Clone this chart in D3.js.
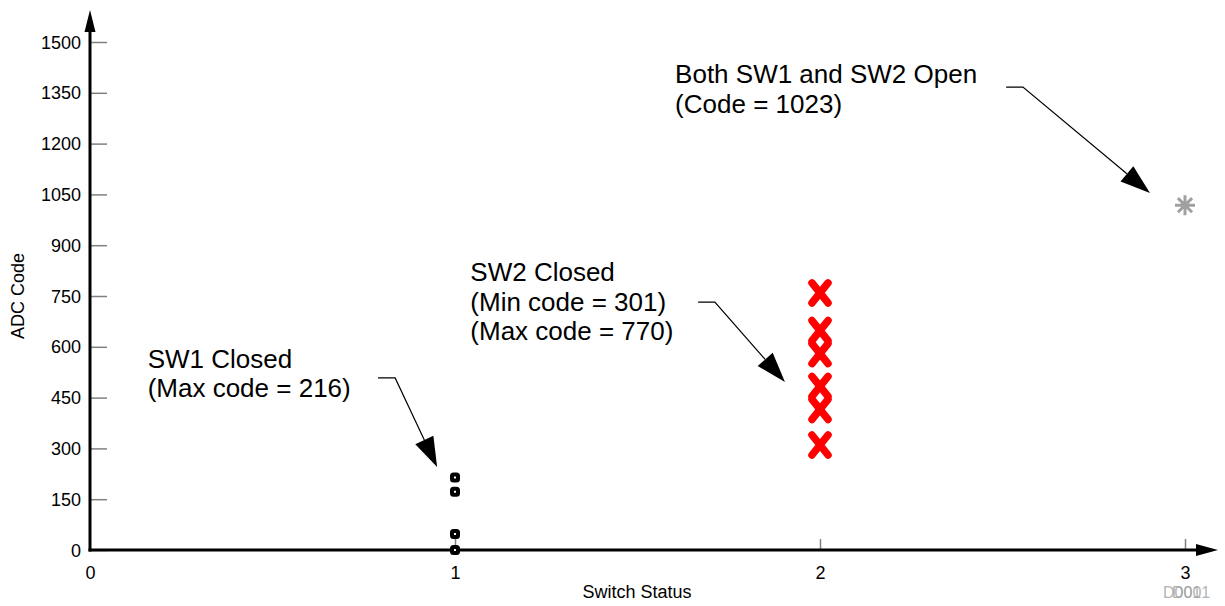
<!DOCTYPE html>
<html>
<head>
    <style>
        body { margin: 0; background: #fff; }
        svg text { font-family: "Liberation Sans", Arial, sans-serif; }
        .tick text { font-size: 18px; fill: #000; }
        .tick line { stroke: #808080; stroke-width: 1.5; }
        .note { font-size: 26px; fill: #000; }
        .title { font-size: 18px; fill: #000; }
    </style>
    <script src="https://d3js.org/d3.v7.min.js"></script>
</head>
<body>
    <svg width="1225" height="606"></svg>

    <script>
        // values
        var xTicks = [0, 1, 2, 3];
        var yTicks = [0, 150, 300, 450, 600, 750, 900, 1050, 1200, 1350, 1500];

        var sw1Codes = [0, 47, 172, 214];
        var sw2Codes = [310, 415, 483, 580, 648, 759];
        var openCodes = [1018];

        // annotation text + leader lines, in data units
        var notes = [
            { lines: ["SW1 Closed", "(Max code = 216)"], x: 0.158, y: 538,
              path: [[0.789, 508], [0.836, 508], [0.951, 245]] },
            { lines: ["SW2 Closed", "(Min code = 301)", "(Max code = 770)"], x: 1.042, y: 793,
              path: [[1.666, 732], [1.712, 732], [1.904, 496]] },
            { lines: ["Both SW1 and SW2 Open", "(Code = 1023)"], x: 1.603, y: 1378,
              path: [[2.510, 1367], [2.556, 1367], [2.904, 1054]] }
        ];

        var svg = d3.select("svg");

        var x = d3.scaleLinear().domain([0, 3]).range([90, 1185]);
        var y = d3.scaleLinear().domain([0, 1500]).range([550, 42]);

        // axes
        var yAxis = d3.axisLeft(y).tickValues(yTicks).tickFormat(d3.format("d"))
                      .tickSizeInner(-17).tickSizeOuter(0).tickPadding(9);
        var gy = svg.append("g").attr("transform", "translate(" + x(0) + ",0)").call(yAxis);
        gy.select(".domain").remove();
        gy.selectAll(".tick text").attr("dy", "0.34em");

        var xAxis = d3.axisBottom(x).tickValues(xTicks).tickFormat(d3.format("d"))
                      .tickSizeInner(-11).tickSizeOuter(0).tickPadding(16);
        var gx = svg.append("g").attr("transform", "translate(0," + y(0) + ")").call(xAxis);
        gx.select(".domain").remove();
        gx.selectAll(".tick").filter(function(d) { return d === 0; }).select("line").remove();

        // axis lines with arrow heads
        svg.append("line")
           .attr("x1", x(0)).attr("y1", y(0) + 1.5)
           .attr("x2", x(0)).attr("y2", 30)
           .attr("stroke", "#000").attr("stroke-width", 3);
        svg.append("path")
           .attr("d", "M" + (x(0) - 5.5) + ",32L" + x(0) + ",10L" + (x(0) + 5.5) + ",32Z")
           .attr("fill", "#000");

        svg.append("line")
           .attr("x1", x(0) - 1.5).attr("y1", y(0))
           .attr("x2", 1198).attr("y2", y(0))
           .attr("stroke", "#000").attr("stroke-width", 3);
        svg.append("path")
           .attr("d", "M1196," + (y(0) - 6) + "L1218," + y(0) + "L1196," + (y(0) + 6) + "Z")
           .attr("fill", "#000");

        // axis titles
        svg.append("text")
           .attr("class", "title")
           .attr("x", 637).attr("y", 598)
           .attr("text-anchor", "middle")
           .text("Switch Status");

        svg.append("text")
           .attr("class", "title")
           .attr("transform", "translate(24,296) rotate(-90)")
           .attr("text-anchor", "middle")
           .text("ADC Code");

        // SW1 closed: small rounded squares with a pin-hole
        svg.selectAll(".sw1")
           .data(sw1Codes)
           .enter().append("rect")
           .attr("class", "sw1")
           .attr("x", x(1) - 3)
           .attr("y", function(d) { return y(d) - 3; })
           .attr("width", 6).attr("height", 6)
           .attr("rx", 1.5)
           .attr("fill", "#fff")
           .attr("stroke", "#000")
           .attr("stroke-width", 4);

        // SW2 closed: red crosses
        svg.selectAll(".sw2")
           .data(sw2Codes)
           .enter().append("path")
           .attr("class", "sw2")
           .attr("d", function(d) {
               var cx = x(2), cy = y(d);
               return "M" + (cx - 8) + "," + (cy - 10) + "L" + (cx + 8) + "," + (cy + 10) +
                      "M" + (cx + 8) + "," + (cy - 10) + "L" + (cx - 8) + "," + (cy + 10);
           })
           .attr("stroke", "#ff0000")
           .attr("stroke-width", 7.5)
           .attr("stroke-linecap", "round")
           .attr("fill", "none");

        // both open: grey asterisk
        svg.selectAll(".open")
           .data(openCodes)
           .enter().append("path")
           .attr("class", "open")
           .attr("d", function(d) {
               var cx = x(3), cy = y(d), r = 10, s = "";
               for (var i = 0; i < 4; i++) {
                   var a = i * Math.PI / 4;
                   s += "M" + (cx - r * Math.cos(a)) + "," + (cy - r * Math.sin(a)) +
                        "L" + (cx + r * Math.cos(a)) + "," + (cy + r * Math.sin(a));
               }
               return s;
           })
           .attr("stroke", "#a0a0a0")
           .attr("stroke-width", 3)
           .attr("fill", "none");

        // annotations
        var line = d3.line().x(function(p) { return x(p[0]); }).y(function(p) { return y(p[1]); });

        notes.forEach(function(n) {
            var t = svg.append("text").attr("class", "note")
                       .attr("x", x(n.x)).attr("y", y(n.y));
            n.lines.forEach(function(s, i) {
                t.append("tspan").attr("x", x(n.x)).attr("dy", i === 0 ? 0 : 29.5).text(s);
            });

            // leader line, stopping at the arrow head
            var pts = n.path.map(function(p) { return [x(p[0]), y(p[1])]; });
            var a = pts[pts.length - 2], b = pts[pts.length - 1];
            var dx = b[0] - a[0], dy = b[1] - a[1], len = Math.sqrt(dx * dx + dy * dy);
            var ux = dx / len, uy = dy / len, hl = 30, hw = 10;
            var bx = b[0] - ux * hl, by = b[1] - uy * hl;

            svg.append("path")
               .attr("d", line(n.path.slice(0, -1)) + "L" + bx + "," + by)
               .attr("stroke", "#000").attr("stroke-width", 1.2).attr("fill", "none");
            svg.append("path")
               .attr("d", "M" + b[0] + "," + b[1] +
                          "L" + (bx - uy * hw) + "," + (by + ux * hw) +
                          "L" + (bx + uy * hw) + "," + (by - ux * hw) + "Z")
               .attr("fill", "#000");
        });

        // figure id, printed twice slightly offset as in the source (one text node)
        var fid = svg.append("text")
           .attr("x", 1163).attr("y", 598)
           .attr("font-size", 16)
           .attr("fill", "#a0a0a0")
           .attr("fill-opacity", 0.8);
        fid.append("tspan").text("D001");
        fid.append("tspan").attr("x", 1172).text("D001");
    </script>
</body>
</html>
